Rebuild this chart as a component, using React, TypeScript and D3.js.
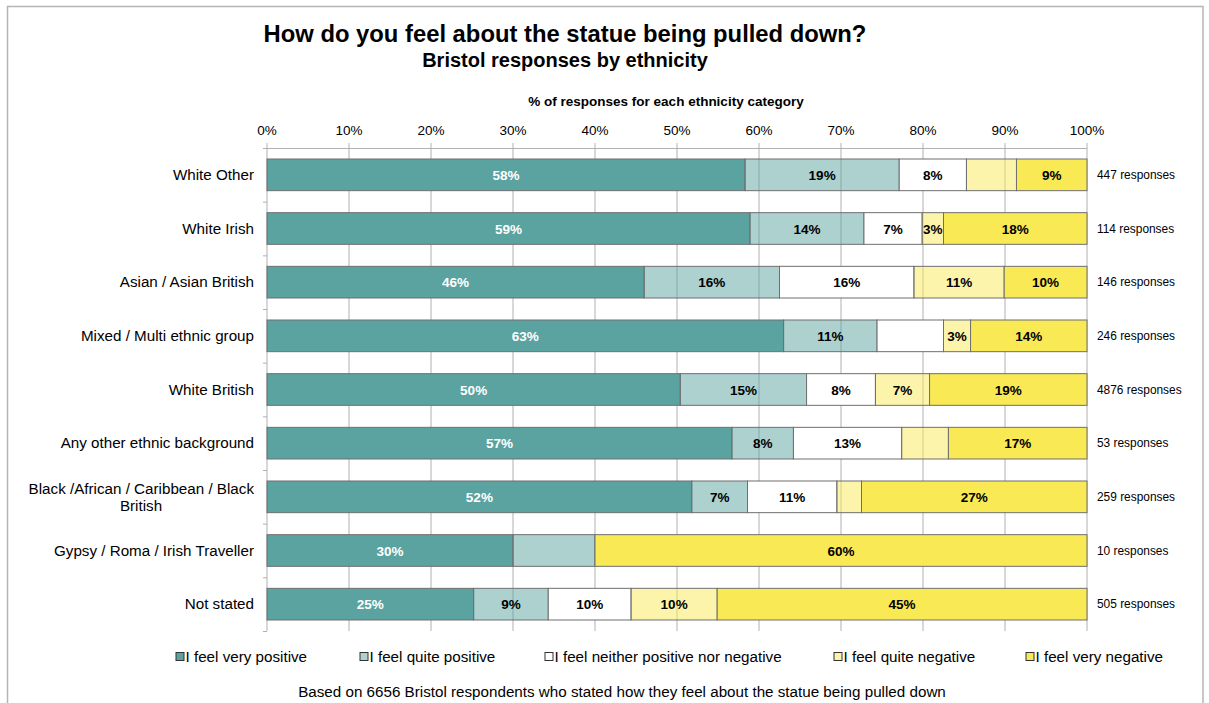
import React from "react";
import * as d3 from "d3";

const categories = [
  "White Other",
  "White Irish",
  "Asian / Asian British",
  "Mixed / Multi ethnic group",
  "White British",
  "Any other ethnic background",
  "Black /African / Caribbean / Black British",
  "Gypsy / Roma / Irish Traveller",
  "Not stated",
];
const responses = ["447", "114", "146", "246", "4876", "53", "259", "10", "505"];

const seriesNames = [
  "I feel very positive",
  "I feel quite positive",
  "I feel neither positive nor negative",
  "I feel quite negative",
  "I feel very negative",
];

const veryPositive = [58.3, 58.9, 46.0, 63.0, 50.4, 56.7, 51.8, 30.0, 25.2];
const quitePositive = [18.8, 13.9, 16.5, 11.4, 15.4, 7.5, 6.8, 10.0, 9.1];
const neither = [8.2, 7.1, 16.4, 8.1, 8.4, 13.2, 10.9, 0, 10.1];
const quiteNegative = [6.1, 2.6, 11.0, 3.3, 6.6, 5.7, 3.0, 0, 10.5];
const veryNegative = [8.6, 17.5, 10.1, 14.2, 19.2, 16.9, 27.5, 60.0, 45.1];

const veryPositiveLabels = ["58%", "59%", "46%", "63%", "50%", "57%", "52%", "30%", "25%"];
const quitePositiveLabels = ["19%", "14%", "16%", "11%", "15%", "8%", "7%", "", "9%"];
const neitherLabels = ["8%", "7%", "16%", "", "8%", "13%", "11%", "", "10%"];
const quiteNegativeLabels = ["", "3%", "11%", "3%", "7%", "", "", "", "10%"];
const veryNegativeLabels = ["9%", "18%", "10%", "14%", "19%", "17%", "27%", "60%", "45%"];

const xTicks = [0, 10, 20, 30, 40, 50, 60, 70, 80, 90, 100];

const seriesValues = [veryPositive, quitePositive, neither, quiteNegative, veryNegative];
const seriesLabels = [veryPositiveLabels, quitePositiveLabels, neitherLabels, quiteNegativeLabels, veryNegativeLabels];

const TEAL = "#5aa3a0";
const YELLOW = "#f9e955";
const fills = [TEAL, TEAL, "#ffffff", YELLOW, YELLOW];
const opacities = [1, 0.5, 1, 0.5, 1];
const labelColors = ["#ffffff", "#000", "#000", "#000", "#000"];

const FONT = "'Liberation Sans', Arial, Helvetica, sans-serif";

export default function App() {
  const W = 1209;
  const H = 703;
  const left = 267;
  const right = 1087;
  const top = 148;
  const bottom = 631;

  const x = d3.scaleLinear().domain([0, 100]).range([left, right]);
  const y = d3
    .scaleBand<string>()
    .domain(categories)
    .range([top, bottom])
    .paddingInner(0.41)
    .paddingOuter(0.205);

  const rows = categories.map((c, i) => {
    let acc = 0;
    const segs = seriesValues.map((vals, s) => {
      const x0 = acc;
      acc += vals[i];
      return { s, x0, x1: acc, label: seriesLabels[s][i] };
    });
    return { c, i, segs };
  });

  const bandStep = y.step();
  const legendX = [176, 360, 545, 834, 1026];

  return (
    <svg
      width={W}
      height={H}
      style={{ position: "absolute", left: 0, top: 0, fontFamily: FONT }}
    >
      <rect x={0} y={0} width={W} height={H} fill="#fff" />
      <rect x={7.5} y={6.5} width={1195.5} height={720} fill="none" stroke="#b5b5b5" strokeWidth={1.5} />

      <text x={565} y={42} textAnchor="middle" fontSize={23.8} fontWeight="bold">
        How do you feel about the statue being pulled down?
      </text>
      <text x={565} y={67} textAnchor="middle" fontSize={20} fontWeight="bold">
        Bristol responses by ethnicity
      </text>
      <text x={666} y={106} textAnchor="middle" fontSize={13.5} fontWeight="bold">
        % of responses for each ethnicity category
      </text>

      {/* gridlines */}
      {xTicks.map((t) => (
        <line key={"g" + t} x1={x(t)} x2={x(t)} y1={top - 5} y2={bottom} stroke="#b0b0b0" strokeWidth={1} />
      ))}
      <line x1={left} x2={right} y1={top + 0.5} y2={top + 0.5} stroke="#b0b0b0" />
      {/* y axis ticks */}
      {d3.range(categories.length + 1).map((k) => (
        <line
          key={"yt" + k}
          x1={left - 4}
          x2={left}
          y1={top + k * bandStep + 0.5}
          y2={top + k * bandStep + 0.5}
          stroke="#b0b0b0"
        />
      ))}
      {xTicks.map((t) => (
        <text key={"tl" + t} x={x(t)} y={135} textAnchor="middle" fontSize={13.5}>
          {t + "%"}
        </text>
      ))}

      {/* bars */}
      {rows.map((r) => (
        <g key={r.c}>
          {r.segs.map((sg) =>
            sg.x1 - sg.x0 > 0 ? (
              <rect
                key={sg.s}
                x={x(sg.x0)}
                y={y(r.c)!}
                width={x(sg.x1) - x(sg.x0)}
                height={y.bandwidth()}
                fill={fills[sg.s]}
                fillOpacity={opacities[sg.s]}
                stroke="#6f6f6f"
                strokeWidth={1}
              />
            ) : null
          )}
          {r.segs.map((sg) =>
            sg.label ? (
              <text
                key={"l" + sg.s}
                x={(x(sg.x0) + x(sg.x1)) / 2}
                y={y(r.c)! + y.bandwidth() / 2 + 5}
                textAnchor="middle"
                fontSize={13.5}
                fontWeight="bold"
                fill={labelColors[sg.s]}
              >
                {sg.label}
              </text>
            ) : null
          )}
          <text x={1097} y={y(r.c)! + y.bandwidth() / 2 + 4} fontSize={11.9}>
            {responses[r.i] + " responses"}
          </text>
        </g>
      ))}

      {/* category labels */}
      {rows.map((r) => {
        const cy = y(r.c)! + y.bandwidth() / 2;
        if (r.c.length > 35) {
          const words = "Black /African / Caribbean / Black";
          return (
            <g key={"cl" + r.i}>
              <text x={254} y={cy - 3} textAnchor="end" fontSize={15.2}>
                {words}
              </text>
              <text x={141} y={cy + 14} textAnchor="middle" fontSize={15.2}>
                {r.c.slice(words.length + 1)}
              </text>
            </g>
          );
        }
        return (
          <text key={"cl" + r.i} x={254} y={cy + 5} textAnchor="end" fontSize={15.2}>
            {r.c}
          </text>
        );
      })}

      {/* legend */}
      {seriesNames.map((n, s) => (
        <g key={"lg" + s}>
          <rect
            x={legendX[s]}
            y={652.5}
            width={8}
            height={8}
            fill={fills[s]}
            fillOpacity={opacities[s]}
            stroke="#333"
            strokeWidth={1}
          />
          <text x={legendX[s] + 9.5} y={662} fontSize={15.2}>
            {n}
          </text>
        </g>
      ))}

      <text x={622} y={697} textAnchor="middle" fontSize={15.2}>
        Based on 6656 Bristol respondents who stated how they feel about the statue being pulled down
      </text>
    </svg>
  );
}
